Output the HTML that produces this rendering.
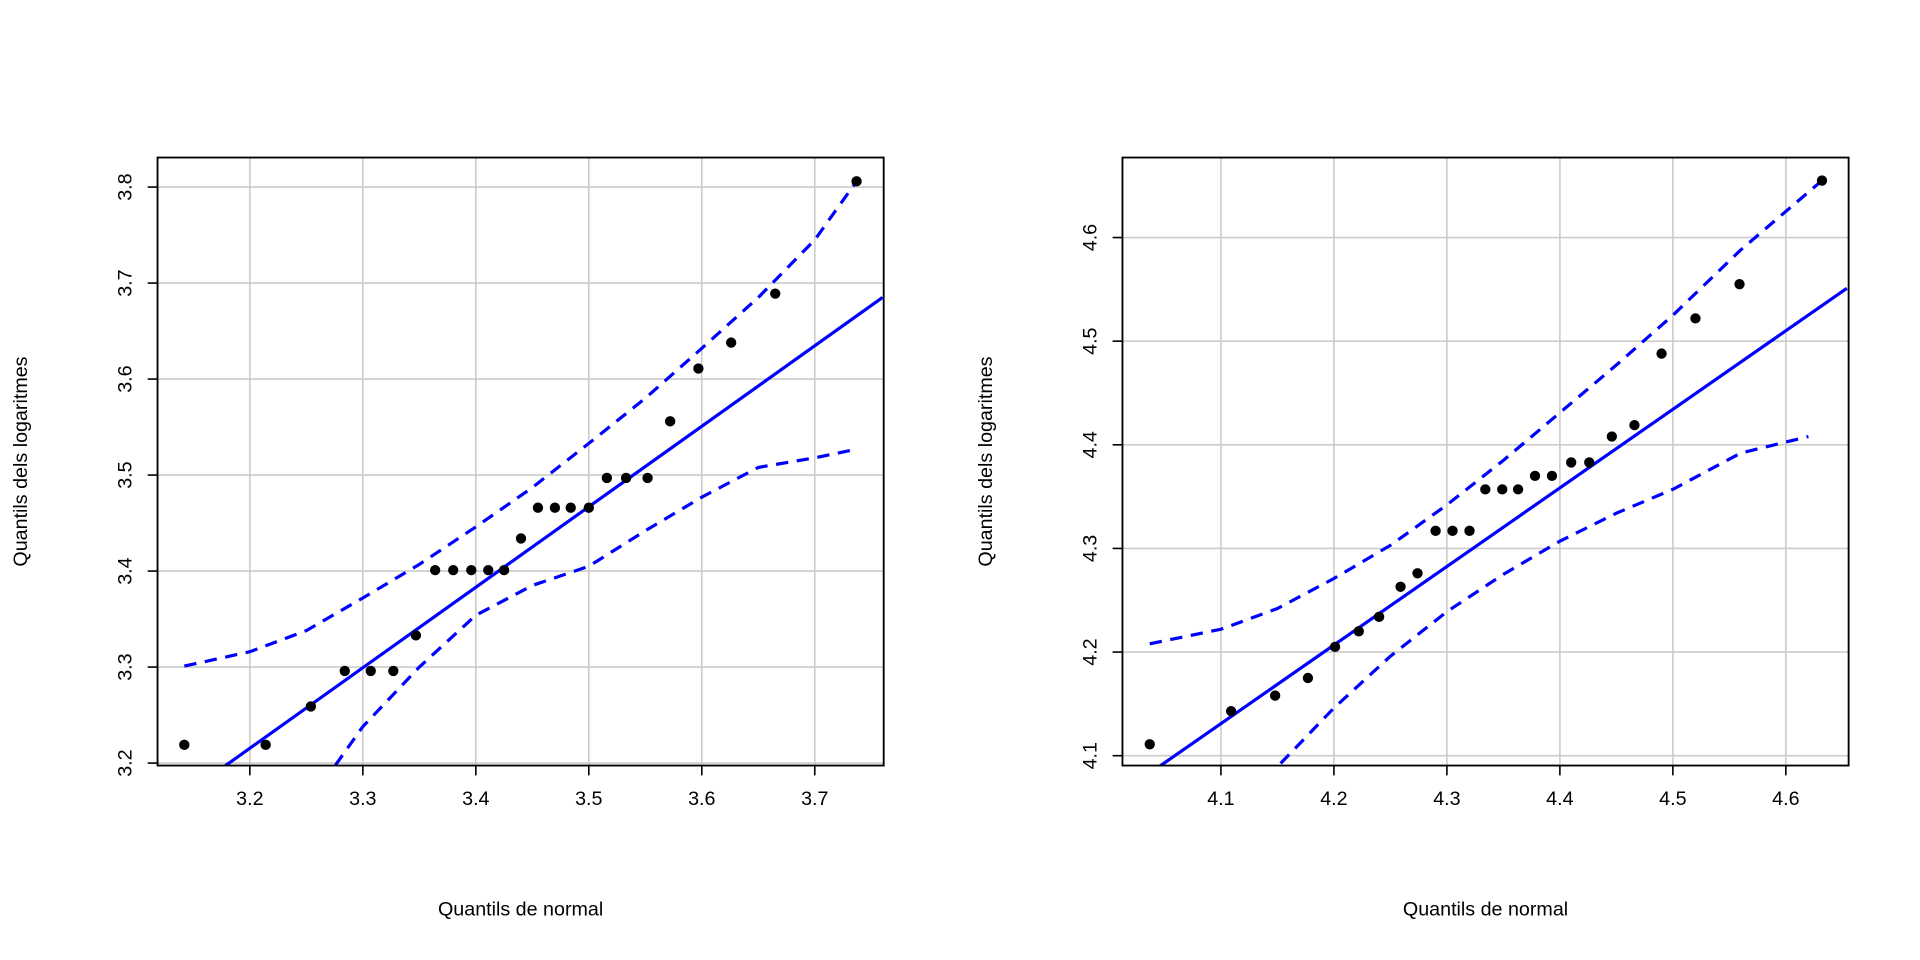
<!DOCTYPE html>
<html><head><meta charset="utf-8"><style>
html,body{margin:0;padding:0;background:#fff;width:1920px;height:960px;overflow:hidden}
svg{display:block}
text{font-family:"Liberation Sans",sans-serif;font-size:16px;fill:#000}
</style></head><body>
<svg id="chart" width="1920" height="960" viewBox="0 0 1560 780" xmlns="http://www.w3.org/2000/svg"></svg>
<script>
// Left panel data
const leftX = [3.142,3.214,3.254,3.284,3.307,3.327,3.347,3.364,3.380,3.396,3.411,3.425,3.440,3.455,3.470,3.484,3.500,3.516,3.533,3.552,3.572,3.597,3.626,3.665,3.737];
const leftY = [3.219,3.219,3.259,3.296,3.296,3.296,3.333,3.401,3.401,3.401,3.401,3.401,3.434,3.466,3.466,3.466,3.466,3.497,3.497,3.497,3.556,3.611,3.638,3.689,3.806];
const leftLineX = [3.178,3.760];
const leftLineY = [3.197,3.685];
const leftUpperX = [3.142,3.2,3.25,3.3,3.35,3.4,3.45,3.5,3.55,3.6,3.65,3.7,3.737];
const leftUpperY = [3.301,3.316,3.338,3.372,3.407,3.446,3.487,3.533,3.580,3.632,3.685,3.745,3.806];
const leftLowerX = [3.265,3.3,3.35,3.4,3.45,3.5,3.55,3.6,3.65,3.7,3.737];
const leftLowerY = [3.180,3.238,3.300,3.354,3.385,3.405,3.442,3.477,3.508,3.518,3.527];
const leftXTicks = ["3.2","3.3","3.4","3.5","3.6","3.7"];
const leftYTicks = ["3.2","3.3","3.4","3.5","3.6","3.7","3.8"];
// Right panel data
const rightX = [4.037,4.109,4.148,4.177,4.201,4.222,4.240,4.259,4.274,4.290,4.305,4.320,4.334,4.349,4.363,4.378,4.393,4.410,4.426,4.446,4.466,4.490,4.520,4.559,4.632];
const rightY = [4.111,4.143,4.158,4.175,4.205,4.220,4.234,4.263,4.276,4.317,4.317,4.317,4.357,4.357,4.357,4.370,4.370,4.383,4.383,4.408,4.419,4.488,4.522,4.555,4.655];
const rightLineX = [4.046,4.654];
const rightLineY = [4.090,4.551];
const rightUpperX = [4.037,4.1,4.15,4.2,4.25,4.3,4.35,4.4,4.45,4.5,4.56,4.632];
const rightUpperY = [4.208,4.222,4.242,4.271,4.303,4.342,4.385,4.431,4.477,4.525,4.588,4.655];
const rightLowerX = [4.140,4.2,4.25,4.3,4.35,4.4,4.45,4.5,4.56,4.62];
const rightLowerY = [4.078,4.146,4.196,4.239,4.275,4.307,4.334,4.357,4.392,4.408];
const rightXTicks = ["4.1","4.2","4.3","4.4","4.5","4.6"];
const rightYTicks = ["4.1","4.2","4.3","4.4","4.5","4.6"];

const NS="http://www.w3.org/2000/svg";
const svg=document.getElementById('chart');
function mk(tag,attrs,parent){const e=document.createElementNS(NS,tag);for(const k in attrs)e.setAttribute(k,attrs[k]);(parent||svg).appendChild(e);return e;}

function panel(id,box,xd,yd,px,py,lx,ly,ux,uy,lox,loy,xt,yt){
  const [L,T,R,B]=box;
  const sx=v=>px[0]+(v-xd[0])/(xd[1]-xd[0])*(px[1]-px[0]);
  const sy=v=>py[0]+(v-yd[0])/(yd[1]-yd[0])*(py[1]-py[0]);
  const g=mk('g',{});
  
  
  const cp=mk('clipPath',{id:id+'clip'},g);mk('rect',{x:L,y:T,width:R-L,height:B-T},cp);
  const grid=mk('g',{stroke:'#cccccc','stroke-width':1.3},g);
  
  
  xt.forEach(t=>{const x=sx(+t);mk('line',{x1:x,x2:x,y1:T,y2:B},grid);});
  yt.forEach(t=>{const y=sy(+t);mk('line',{x1:L,x2:R,y1:y,y2:y},grid);});
  const c=mk('g',{'clip-path':'url(#'+id+'clip)',fill:'none',stroke:'#0000ff','stroke-width':2.6},g);
  const ref=mk('line',{x1:sx(lx[0]),y1:sy(ly[0]),x2:sx(lx[1]),y2:sy(ly[1])},c);
  
  
  const up=mk('polyline',{points:ux.map((v,i)=>sx(v)+','+sy(uy[i])).join(' '),'stroke-dasharray':'10 7'},c);
  
  
  const lo=mk('polyline',{points:lox.map((v,i)=>sx(v)+','+sy(loy[i])).join(' '),'stroke-dasharray':'10 7'},c);
  
  
  const pts=mk('g',{fill:'#000'},g);
  xdPts[id].x.forEach((v,i)=>{const p=mk('circle',{cx:sx(v),cy:sy(xdPts[id].y[i]),r:4.2},pts);
    
    });
  mk('rect',{x:L,y:T,width:R-L,height:B-T,fill:'none',stroke:'#000','stroke-width':1.5},g);
  xt.forEach(t=>{const x=sx(+t);mk('line',{x1:x,x2:x,y1:B,y2:B+8,stroke:'#000','stroke-width':1.3},g);
    const tx=mk('text',{x:x,y:B+32,'text-anchor':'middle'},g);tx.textContent=t;
    
    });
  yt.forEach(t=>{const y=sy(+t);mk('line',{x1:L-8,x2:L,y1:y,y2:y,stroke:'#000','stroke-width':1.3},g);
    const tx=mk('text',{x:L-26,y:y,'text-anchor':'middle',transform:'rotate(-90 '+(L-26)+' '+y+')','dominant-baseline':'central'},g);tx.textContent=t;
    
    });
  const xl=mk('text',{x:(L+R)/2,y:744,'text-anchor':'middle'},g);xl.textContent='Quantils de normal';
  
  
  const yx=L-106,yy=(T+B)/2;
  const yl=mk('text',{x:yx,y:yy,'text-anchor':'middle',transform:'rotate(-90 '+yx+' '+yy+')'},g);yl.textContent='Quantils dels logaritmes';
  
  
}
const xdPts={left:{x:leftX,y:leftY},right:{x:rightX,y:rightY}};
panel('left',[128,128,718,622],[3.2,3.7],[3.2,3.8],[203,662],[620,152],leftLineX,leftLineY,leftUpperX,leftUpperY,leftLowerX,leftLowerY,leftXTicks,leftYTicks);
panel('right',[912,128,1502,622],[4.1,4.6],[4.1,4.6],[992,1451],[614,193],rightLineX,rightLineY,rightUpperX,rightUpperY,rightLowerX,rightLowerY,rightXTicks,rightYTicks);
</script>
</body></html>
